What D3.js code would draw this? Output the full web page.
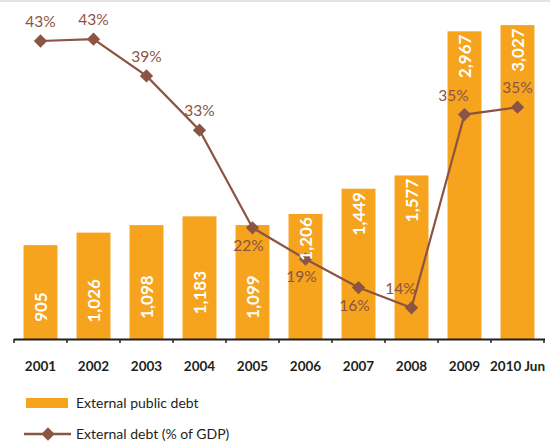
<!DOCTYPE html>
<html>
<head>
<meta charset="utf-8">
<script src="https://cdn.jsdelivr.net/npm/d3@7"></script>
<style>
  html, body { margin: 0; padding: 0; background: #fff; }
  svg { display: block; }
</style>
</head>
<body>
<svg id="chart" width="550" height="443"></svg>
<script>
const categories = ["2001","2002","2003","2004","2005","2006","2007","2008","2009","2010 Jun"];
const debtValues = [905, 1026, 1098, 1183, 1099, 1206, 1449, 1577, 2967, 3027];
const gdpShare = [43.0, 43.2, 39.2, 33.3, 22.7, 19.3, 16.2, 14.0, 35.0, 35.8];
const gdpLabels = ["43%","43%","39%","33%","22%","19%","16%","14%","35%","35%"];
const gdpLabelSide = ["above","above","above","above","below","below","below","left","left","above"];
const legendLabels = ["External public debt", "External debt (% of GDP)"];

const barColor = "#F6A31D";
const lineColor = "#8C5443";
const textDark = "#231F20";
const font = "Lato, 'Open Sans', sans-serif";

const svg = d3.select("#chart");

// top grey strip
svg.append("rect").attr("x", 0).attr("y", 0).attr("width", 550).attr("height", 2).attr("fill", "#e4e4e4");

const baseline = 339;
const x = d3.scaleBand().domain(categories).range([14, 544]).paddingInner(0.36).paddingOuter(0.18);
const y = d3.scaleLinear().domain([0, 3300]).range([baseline, baseline - 3300 * 0.1037]);
const yp = d3.scaleLinear().domain([10, 45]).range([344.6, 22.6]);

// bars
svg.append("g").selectAll("rect").data(categories).join("rect")
  .attr("x", d => x(d))
  .attr("width", x.bandwidth())
  .attr("y", (d, i) => y(debtValues[i]))
  .attr("height", (d, i) => baseline - y(debtValues[i]))
  .attr("fill", barColor);

// axis
const axis = d3.axisBottom(x).tickSize(0).tickPadding(22);
const gAxis = svg.append("g").attr("transform", `translate(0,${baseline})`).call(axis);
gAxis.select(".domain").remove();
gAxis.selectAll("text")
  .attr("font-family", font).attr("font-weight", "bold").attr("font-size", 13.5)
  .attr("fill", textDark).attr("dy", "0.71em");
svg.append("line").attr("x1", 14).attr("x2", 545).attr("y1", baseline + 0.5).attr("y2", baseline + 0.5)
  .attr("stroke", textDark).attr("stroke-width", 2);
const step = x.step();
const bounds = d3.range(categories.length + 1).map(i => x(categories[0]) - x.paddingOuter() * step + i * step);
svg.append("g").selectAll("line").data(bounds).join("line")
  .attr("x1", d => d).attr("x2", d => d)
  .attr("y1", baseline).attr("y2", baseline + 4)
  .attr("stroke", textDark).attr("stroke-width", 1.5);

// line
const cx = d => x(d) + x.bandwidth() / 2;
const line = d3.line().x((d, i) => cx(categories[i])).y(d => yp(d));
svg.append("path").datum(gdpShare).attr("d", line)
  .attr("fill", "none").attr("stroke", lineColor).attr("stroke-width", 2.2);
const diamond = d3.symbol().type(d3.symbolSquare).size(88);
svg.append("g").selectAll("path").data(gdpShare).join("path")
  .attr("d", diamond)
  .attr("transform", (d, i) => `translate(${cx(categories[i])},${yp(d)}) rotate(45)`)
  .attr("fill", lineColor);

// bar labels
svg.append("g").selectAll("text").data(debtValues).join("text")
  .attr("transform", (d, i) => {
    const top = y(d);
    const c = d < 1200 ? (top + baseline) / 2 + 15 : top + 25;
    return `translate(${cx(categories[i])},${c}) rotate(-90)`;
  })
  .attr("text-anchor", "middle").attr("dy", "0.36em")
  .attr("font-family", font).attr("font-weight", "bold").attr("font-size", 17)
  .attr("fill", "#fff")
  .text(d => d3.format(",")(d));

// percent labels
svg.append("g").selectAll("text").data(gdpShare).join("text")
  .attr("x", (d, i) => cx(categories[i]) + (gdpLabelSide[i] === "below" ? -4 : gdpLabelSide[i] === "left" ? -11 : 0))
  .attr("y", (d, i) => yp(d) + (gdpLabelSide[i] === "below" ? 23 : -14))
  .attr("text-anchor", "middle")
  .attr("font-family", font).attr("font-size", 15.5)
  .attr("fill", lineColor)
  .text((d, i) => gdpLabels[i]);

// legend
const lg = svg.append("g");
lg.append("rect").attr("x", 26).attr("y", 398).attr("width", 42).attr("height", 10).attr("fill", barColor);
lg.append("text").attr("x", 76).attr("y", 408).text(legendLabels[0]);
lg.append("line").attr("x1", 24).attr("x2", 71).attr("y1", 434).attr("y2", 434)
  .attr("stroke", lineColor).attr("stroke-width", 2.5);
lg.append("path").attr("d", diamond).attr("transform", "translate(48,434) rotate(45)").attr("fill", lineColor);
lg.append("text").attr("x", 76).attr("y", 439).text(legendLabels[1]);
lg.selectAll("text").attr("font-family", font).attr("font-size", 14).attr("fill", textDark);
</script>
</body>
</html>
